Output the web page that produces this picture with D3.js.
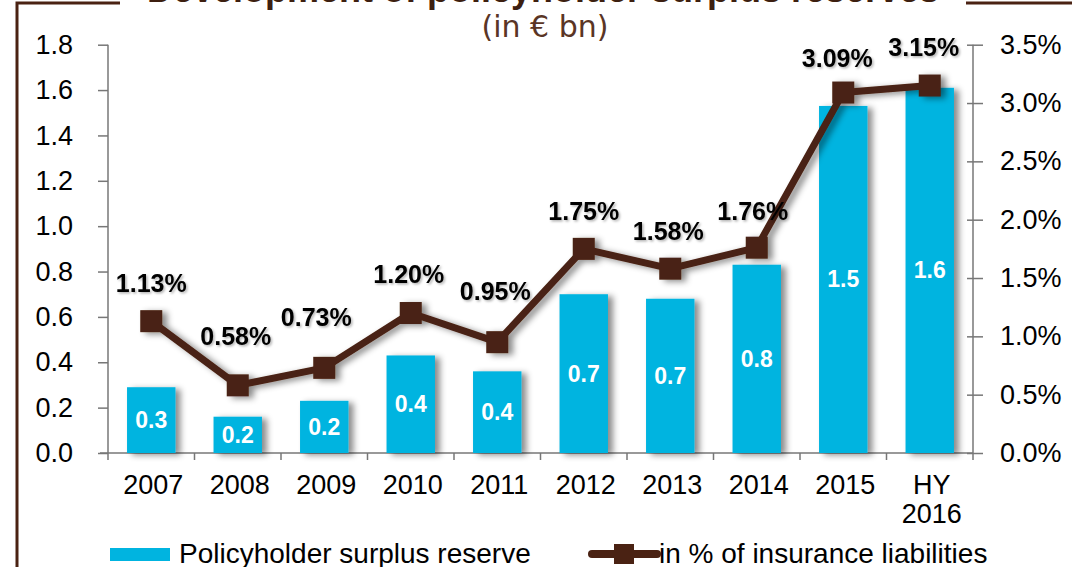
<!DOCTYPE html>
<html>
<head>
<meta charset="utf-8">
<script src="https://cdn.jsdelivr.net/npm/d3@7"></script>
<style>
  body { margin: 0; background: #fff; overflow: hidden; }
  text { font-family: "Liberation Sans", Arial, sans-serif; }
</style>
</head>
<body>
<script>
// Chart size
let width = 1072;
let height = 567;
let margin = {top: 44.7, right: 99, bottom: 114, left: 108};

// Data
var categories = ['2007', '2008', '2009', '2010', '2011', '2012', '2013', '2014', '2015', 'HY\n2016'];
var reserve = [0.29, 0.16, 0.23, 0.43, 0.36, 0.70, 0.68, 0.83, 1.53, 1.61];
var share = [1.13, 0.58, 0.73, 1.20, 0.95, 1.75, 1.58, 1.76, 3.09, 3.15];
var leftTicks = [0, 0.2, 0.4, 0.6, 0.8, 1.0, 1.2, 1.4, 1.6, 1.8];
var rightTicks = [0, 0.5, 1.0, 1.5, 2.0, 2.5, 3.0, 3.5];

// Offsets of the percentage labels relative to the marker (dx, dy)
var labelOffsets = [[0, -29], [-2, -40], [-8, -42], [-2, -30], [-2, -42], [0, -29], [-2, -29], [-4, -28], [-6, -26], [-6, -30]];

var brown = '#4a2213';
var cyan = '#00b4e0';

var svg = d3.select('body').append('svg')
  .attr('width', width)
  .attr('height', height);

// Drop shadow like the original
var defs = svg.append('defs');
var shadow = defs.append('filter').attr('id', 'shadow')
  .attr('x', '-20%').attr('y', '-20%').attr('width', '150%').attr('height', '150%');
shadow.append('feDropShadow').attr('dx', 5).attr('dy', 2).attr('stdDeviation', 3)
  .attr('flood-color', '#000').attr('flood-opacity', 0.45);
var textShadow = defs.append('filter').attr('id', 'textShadow');
textShadow.append('feDropShadow').attr('dx', 1.5).attr('dy', 1.5).attr('stdDeviation', 1)
  .attr('flood-color', '#000').attr('flood-opacity', 0.3);

// Frame lines
svg.append('path').attr('d', 'M17,567 L17,3 L120,3').attr('fill', 'none')
  .attr('stroke', brown).attr('stroke-width', 3);
svg.append('path').attr('d', 'M966,3 L1072,3').attr('fill', 'none')
  .attr('stroke', brown).attr('stroke-width', 3);

// Title (cut at the top) and unit
svg.append('text').attr('x', 543).attr('y', 2).attr('text-anchor', 'middle')
  .style('font-size', '36px').style('font-weight', 'bold').attr('fill', '#3d1f10')
  .text('Development of policyholder surplus reserves');
svg.append('text').attr('x', 545).attr('y', 37).attr('text-anchor', 'middle')
  .style('font-family', '"DejaVu Sans", sans-serif').style('font-size', '30px').attr('fill', '#5a3525')
  .text('(in € bn)');

// Scales
var x = d3.scaleBand().domain(categories)
  .range([margin.left, width - margin.right]).paddingInner(0.44).paddingOuter(0.22);
var xb = d3.scaleBand().domain(categories).range([margin.left, width - margin.right]);
var yL = d3.scaleLinear().domain([0, 1.8]).range([height - margin.bottom, margin.top]);
var yR = d3.scaleLinear().domain([0, 3.5]).range([height - margin.bottom, margin.top]);

// Left axis
var gL = svg.append('g').attr('transform', 'translate(' + margin.left + ',0)')
  .call(d3.axisLeft(yL).tickValues(leftTicks).tickFormat(d3.format('.1f')).tickSize(10).tickPadding(25));
gL.select('.domain').attr('stroke', '#777').attr('stroke-width', 1.5).attr('d', 'M0,' + yL(1.8) + 'V' + yL(0));
gL.selectAll('.tick line').attr('stroke', '#777').attr('stroke-width', 1.5);
gL.selectAll('.tick text').style('font-size', '27px').attr('fill', '#000');

// Right axis
var gR = svg.append('g').attr('transform', 'translate(' + (width - margin.right) + ',0)')
  .call(d3.axisRight(yR).tickValues(rightTicks).tickFormat(d => d.toFixed(1) + '%').tickSize(10).tickPadding(17));
gR.select('.domain').attr('stroke', '#777').attr('stroke-width', 1.5).attr('d', 'M0,' + yR(3.5) + 'V' + yR(0));
gR.selectAll('.tick line').attr('stroke', '#777').attr('stroke-width', 1.5).attr('x1', -6);
gR.selectAll('.tick text').style('font-size', '27px').attr('fill', '#000');

// X axis line and boundary ticks
var y0 = yL(0);
svg.append('line').attr('x1', margin.left - 8).attr('x2', width - margin.right)
  .attr('y1', y0).attr('y2', y0).attr('stroke', '#777').attr('stroke-width', 1.5);
svg.selectAll('.xtick').data(categories).enter().append('line')
  .attr('x1', d => xb(d) + xb.bandwidth()).attr('x2', d => xb(d) + xb.bandwidth())
  .attr('y1', y0).attr('y2', y0 + 7).attr('stroke', '#777').attr('stroke-width', 1.5);
svg.append('line').attr('x1', margin.left).attr('x2', margin.left)
  .attr('y1', y0).attr('y2', y0 + 7).attr('stroke', '#777').attr('stroke-width', 1.5);

// Category labels
var xl = svg.selectAll('.xlabel').data(categories).enter().append('text')
  .attr('text-anchor', 'middle').style('font-size', '27px').attr('fill', '#000');
xl.each(function(d) {
  var lines = d.split('\n');
  var t = d3.select(this);
  lines.forEach(function(l, i) {
    t.append('tspan').attr('x', xb(d) + xb.bandwidth() / 2 + 2).attr('y', y0 + 41 + i * 29).text(l);
  });
});

// Bars
svg.selectAll('.bar').data(reserve).enter().append('rect')
  .attr('x', (d, i) => x(categories[i]))
  .attr('width', x.bandwidth())
  .attr('y', d => yL(d))
  .attr('height', d => y0 - yL(d))
  .attr('fill', cyan)
  .attr('filter', 'url(#shadow)');

// Bar value labels
svg.selectAll('.barlabel').data(reserve).enter().append('text')
  .attr('x', (d, i) => x(categories[i]) + x.bandwidth() / 2)
  .attr('y', d => (yL(d) + y0) / 2 + 8)
  .attr('text-anchor', 'middle')
  .style('font-size', '23px').style('font-weight', 'bold').attr('fill', '#fff')
  .text(d => d.toFixed(1));

// Line with square markers
var cx = i => xb(categories[i]) + xb.bandwidth() / 2;
var line = d3.line().x((d, i) => cx(i)).y(d => yR(d));
var lg = svg.append('g').attr('filter', 'url(#shadow)');
lg.append('path').datum(share).attr('d', line)
  .attr('fill', 'none').attr('stroke', brown).attr('stroke-width', 7).attr('stroke-linejoin', 'round');
lg.selectAll('.marker').data(share).enter().append('rect')
  .attr('x', (d, i) => cx(i) - 11).attr('y', d => yR(d) - 11)
  .attr('width', 22).attr('height', 22).attr('fill', brown);

// Percentage labels
svg.selectAll('.pct').data(share).enter().append('text')
  .attr('x', (d, i) => cx(i) + labelOffsets[i][0])
  .attr('y', (d, i) => yR(d) + labelOffsets[i][1])
  .attr('text-anchor', 'middle')
  .style('font-size', '25px').style('font-weight', 'bold').attr('fill', '#000')
  .attr('filter', 'url(#textShadow)')
  .text(d => d.toFixed(2) + '%');

// Legend
var legY = 554;
svg.append('rect').attr('x', 110).attr('y', legY - 6).attr('width', 60).attr('height', 13).attr('fill', cyan);
svg.append('text').attr('x', 179).attr('y', legY + 9).style('font-size', '28px').attr('fill', '#000')
  .text('Policyholder surplus reserve');
svg.append('line').attr('x1', 592).attr('x2', 657).attr('y1', legY).attr('y2', legY)
  .attr('stroke', brown).attr('stroke-width', 8).attr('stroke-linecap', 'round');
svg.append('rect').attr('x', 614).attr('y', legY - 10).attr('width', 20).attr('height', 20).attr('fill', brown);
svg.append('text').attr('x', 659).attr('y', legY + 9).style('font-size', '28px').attr('fill', '#000')
  .text('in % of insurance liabilities');
</script>
</body>
</html>
